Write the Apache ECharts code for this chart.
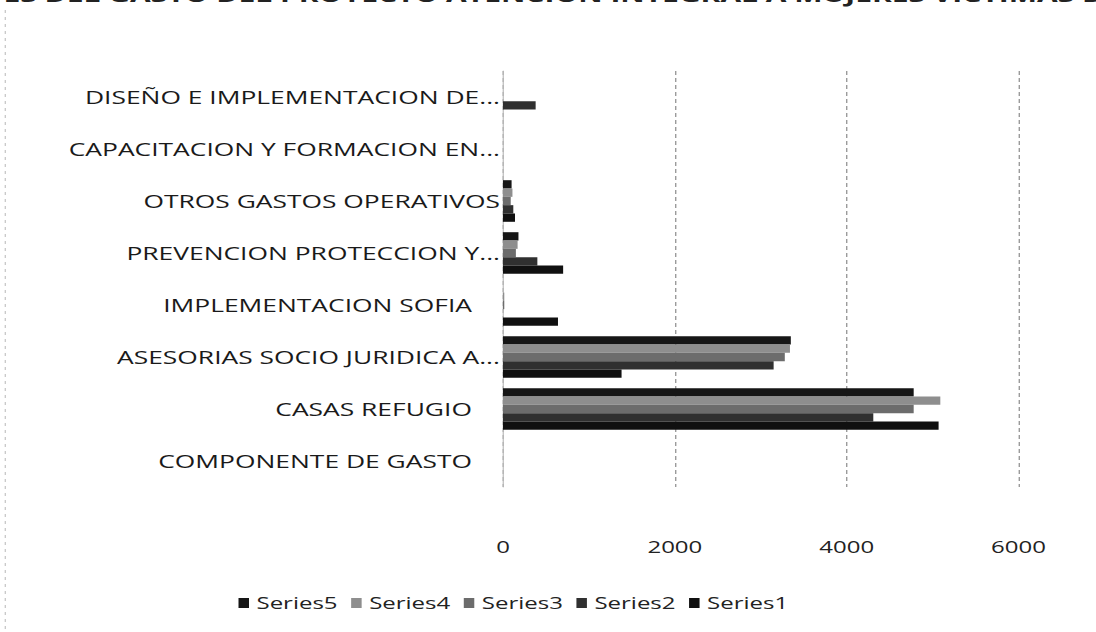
<!DOCTYPE html>
<html>
<head>
<meta charset="utf-8">
<script src="https://cdn.jsdelivr.net/npm/echarts@6/dist/echarts.min.js"></script>
<style>
html,body{margin:0;padding:0;background:#fff;overflow:hidden;width:1096px;height:632px;}
#chart{width:730.667px;height:632px;transform:scaleX(1.5);transform-origin:0 0;}
</style>
</head>
<body>
<div id="chart"></div>
<script>
// Categories listed bottom to top
const categories = [
  "COMPONENTE DE GASTO",
  "CASAS REFUGIO",
  "ASESORIAS SOCIO JURIDICA A...",
  "IMPLEMENTACION SOFIA",
  "PREVENCION PROTECCION Y...",
  "OTROS GASTOS OPERATIVOS",
  "CAPACITACION Y FORMACION EN...",
  "DISEÑO E IMPLEMENTACION DE..."
];
const series5 = [0, 4780, 3350, 0, 180, 100, 0, 0];
const series4 = [0, 5090, 3340, 15, 170, 110, 0, 0];
const series3 = [0, 4780, 3280, 15, 150, 90, 0, 0];
const series2 = [0, 4310, 3150, 0, 400, 120, 0, 380];
const series1 = [0, 5070, 1380, 640, 700, 140, 0, 0];
const seriesNames = ["Series5", "Series4", "Series3", "Series2", "Series1"];
const xTicks = { min: 0, max: 6000, interval: 2000 };
const titleText = "COMPONENTES DEL GASTO DEL PROYECTO ATENCION INTEGRAL A MUJERES VICTIMAS DE VIOLENCIA";

const flushLabels = ["OTROS GASTOS OPERATIVOS"];
const font = "'Open Sans', sans-serif";
const colors = ["#161616", "#8e8e8e", "#6c6c6c", "#303030", "#101010"];
const values = [series5, series4, series3, series2, series1];

const chart = echarts.init(document.getElementById('chart'), null, { renderer: 'svg' });
chart.setOption({
  animation: false,
  backgroundColor: '#ffffff',
  title: {
    text: titleText,
    left: 'center',
    top: -21,
    textStyle: { fontFamily: font, fontSize: 20, fontWeight: 'bold', color: '#222' }
  },
  graphic: [{
    type: 'line',
    shape: { x1: 3.5, y1: 10, x2: 3.5, y2: 632 },
    style: { stroke: '#bbb', lineWidth: 0.7, lineDash: [3, 4] }
  }],
  grid: { left: 335.33, right: 52, top: 71, bottom: 145 },
  legend: {
    data: seriesNames,
    left: 154,
    top: 590,
    icon: 'rect',
    itemWidth: 7,
    itemHeight: 10,
    itemGap: 9,
    textStyle: { fontFamily: font, fontSize: 16, color: '#222' }
  },
  xAxis: {
    type: 'value',
    min: xTicks.min,
    max: xTicks.max,
    interval: xTicks.interval,
    axisLine: { show: false },
    axisTick: { show: false },
    axisLabel: {
      fontFamily: font, fontSize: 16, color: '#222', margin: 52,
      formatter: function (v) { return String(v); }
    },
    splitLine: { show: true, lineStyle: { color: '#8a8a8a', type: [4, 3], width: 0.8 } }
  },
  yAxis: {
    type: 'category',
    data: categories,
    axisTick: { show: false },
    axisLine: { show: true, lineStyle: { color: '#bbb', width: 0.8 } },
    axisLabel: {
      margin: 2,
      formatter: function (v) {
        if (v.endsWith('...') || flushLabels.indexOf(v) >= 0) return '{t|' + v + '}';
        return '{t|' + v + '}{s|}';
      },
      rich: {
        t: { fontFamily: font, fontSize: 17.6, color: '#1a1a1a' },
        s: { width: 18.7 }
      }
    }
  },
  series: seriesNames.map((n, i) => ({
    name: n,
    type: 'bar',
    data: values[i],
    barGap: '0%',
    barCategoryGap: '20%',
    itemStyle: { color: colors[i] }
  }))
});
</script>
</body>
</html>
